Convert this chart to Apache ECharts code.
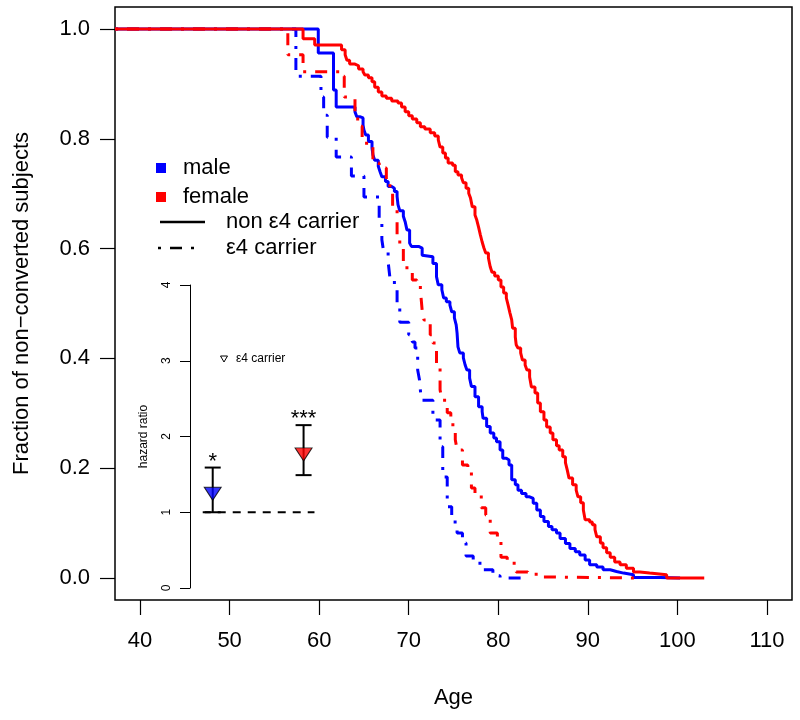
<!DOCTYPE html>
<html><head><meta charset="utf-8">
<script src="https://cdn.jsdelivr.net/npm/echarts@6/dist/echarts.min.js"></script>
<style>html,body{margin:0;padding:0;background:#fff}#c{width:800px;height:720px}</style>
</head><body><div id="c"></div>
<script>
// ---- data ----
const xTicks = [40, 50, 60, 70, 80, 90, 100, 110];
const yTicks = [0, 0.2, 0.4, 0.6, 0.8, 1.0];
const hrTicks = [0, 1, 2, 3, 4];

const maleNonAge = [37.2, 59.9, 61.6, 61.9, 64.0, 64.2, 64.6, 64.9, 65.0, 65.2, 65.5, 65.9, 66.0, 66.2, 66.6, 66.8, 67.0, 67.4, 67.7, 68.1, 68.4, 68.7, 68.8, 69.0, 69.4, 69.6, 69.8, 70.1, 70.3, 71.1, 71.5, 71.6, 72.7, 73.1, 73.3, 73.7, 73.9, 74.2, 74.6, 74.8, 75.1, 75.3, 75.4, 75.5, 75.7, 76.1, 76.3, 76.5, 76.8, 77.0, 77.4, 77.8, 78.2, 78.3, 78.7, 79.1, 79.5, 79.8, 80.2, 80.5, 80.9, 81.2, 81.5, 81.9, 82.2, 82.6, 83.1, 83.5, 83.9, 84.3, 84.7, 85.1, 85.6, 86.0, 86.5, 86.9, 87.5, 88.0, 88.6, 89.1, 89.7, 90.2, 91.0, 91.7, 92.5, 93.2, 94.0, 95.1, 98.1, 100.3];
const maleNonSurv = [1.0, 0.956, 0.889, 0.858, 0.849, 0.840, 0.838, 0.825, 0.816, 0.807, 0.795, 0.783, 0.771, 0.761, 0.750, 0.740, 0.731, 0.722, 0.713, 0.710, 0.704, 0.695, 0.680, 0.669, 0.659, 0.649, 0.634, 0.610, 0.604, 0.601, 0.588, 0.585, 0.573, 0.549, 0.534, 0.525, 0.510, 0.503, 0.497, 0.485, 0.474, 0.461, 0.446, 0.421, 0.410, 0.401, 0.388, 0.379, 0.364, 0.349, 0.330, 0.312, 0.303, 0.291, 0.276, 0.264, 0.255, 0.248, 0.233, 0.218, 0.215, 0.206, 0.179, 0.170, 0.160, 0.154, 0.148, 0.145, 0.136, 0.124, 0.112, 0.103, 0.094, 0.088, 0.082, 0.072, 0.063, 0.054, 0.048, 0.042, 0.033, 0.024, 0.020, 0.015, 0.012, 0.009, 0.006, 0.001, 0.0, 0.0];

const femaleNonAge = [37.2, 58.2, 59.5, 62.5, 62.9, 63.1, 63.4, 64.0, 64.4, 64.9, 65.1, 65.5, 65.9, 66.2, 66.6, 67.0, 67.5, 68.1, 68.8, 69.2, 69.6, 70.0, 70.4, 70.9, 71.3, 71.8, 72.4, 72.9, 73.3, 73.5, 73.8, 74.1, 74.4, 74.9, 75.2, 75.5, 75.9, 76.1, 76.4, 76.7, 76.9, 77.1, 77.4, 77.6, 77.8, 78.0, 78.2, 78.4, 78.6, 78.9, 79.1, 79.3, 79.6, 80.0, 80.3, 80.6, 80.9, 81.1, 81.3, 81.5, 81.6, 81.9, 82.0, 82.2, 82.5, 82.7, 83.0, 83.2, 83.5, 83.7, 84.1, 84.4, 84.7, 85.1, 85.4, 85.8, 86.1, 86.5, 86.8, 87.2, 87.5, 87.7, 87.9, 88.3, 88.7, 88.9, 89.2, 89.5, 89.7, 90.2, 90.5, 90.8, 91.0, 91.4, 91.7, 92.1, 92.5, 93.0, 93.6, 94.3, 95.1, 95.8, 96.9, 98.8, 103.0];
const femaleNonSurv = [1.0, 0.982, 0.971, 0.962, 0.953, 0.943, 0.936, 0.933, 0.927, 0.922, 0.916, 0.911, 0.904, 0.894, 0.885, 0.878, 0.874, 0.869, 0.865, 0.858, 0.849, 0.842, 0.836, 0.829, 0.822, 0.818, 0.811, 0.805, 0.798, 0.785, 0.774, 0.765, 0.756, 0.752, 0.740, 0.734, 0.729, 0.720, 0.710, 0.701, 0.692, 0.676, 0.661, 0.652, 0.639, 0.625, 0.612, 0.601, 0.592, 0.583, 0.567, 0.557, 0.550, 0.543, 0.530, 0.519, 0.510, 0.497, 0.483, 0.470, 0.455, 0.439, 0.425, 0.419, 0.410, 0.397, 0.388, 0.379, 0.366, 0.348, 0.337, 0.319, 0.303, 0.288, 0.275, 0.264, 0.252, 0.241, 0.233, 0.221, 0.210, 0.197, 0.182, 0.170, 0.160, 0.148, 0.137, 0.124, 0.106, 0.102, 0.097, 0.088, 0.075, 0.064, 0.055, 0.046, 0.038, 0.029, 0.024, 0.018, 0.011, 0.009, 0.006, 0.0, 0.0];

const maleCarAge = [37.2, 57.4, 60.2, 60.5, 60.9, 61.9, 63.6, 65.0, 66.7, 67.0, 67.2, 67.7, 67.9, 68.4, 68.7, 69.0, 70.0, 70.4, 70.7, 71.0, 71.2, 71.4, 72.7, 73.5, 73.8, 74.3, 74.8, 75.4, 76.0, 76.4, 77.2, 78.2, 79.4, 80.2, 83.0];
const maleCarSurv = [1.0, 0.914, 0.876, 0.843, 0.803, 0.767, 0.732, 0.694, 0.647, 0.616, 0.594, 0.576, 0.547, 0.528, 0.501, 0.466, 0.443, 0.430, 0.419, 0.379, 0.361, 0.324, 0.288, 0.239, 0.184, 0.130, 0.102, 0.082, 0.064, 0.040, 0.027, 0.015, 0.004, 0.0, 0.0];

const femaleCarAge = [37.2, 56.5, 58.2, 62.3, 62.8, 63.6, 64.0, 64.3, 64.8, 65.7, 66.0, 66.7, 67.5, 67.9, 68.2, 68.7, 69.0, 69.4, 69.8, 70.4, 70.9, 71.3, 71.5, 71.7, 72.4, 72.7, 73.1, 73.5, 73.7, 74.3, 74.7, 75.2, 75.4, 76.0, 76.6, 77.0, 77.4, 78.1, 78.6, 79.1, 79.9, 80.3, 81.0, 82.0, 83.3, 84.4, 85.6, 96.0];
const femaleCarSurv = [1.0, 0.953, 0.922, 0.914, 0.876, 0.873, 0.840, 0.823, 0.792, 0.785, 0.756, 0.747, 0.720, 0.707, 0.670, 0.621, 0.607, 0.576, 0.561, 0.543, 0.537, 0.525, 0.488, 0.470, 0.443, 0.428, 0.384, 0.343, 0.324, 0.301, 0.279, 0.252, 0.233, 0.206, 0.193, 0.164, 0.151, 0.128, 0.115, 0.082, 0.066, 0.038, 0.027, 0.011, 0.007, 0.002, 0.0, 0.0];

// inset: hazard ratios for e4 carriers
const hrGroups = ['male', 'female'];
const hrPos = [1, 2];
const hrEst = [1.27, 1.79];
const hrLow = [1.0, 1.49];
const hrHigh = [1.59, 2.15];
const hrStars = ['*', '***'];
const hrRefValue = 1;
const hrRefSpan = [0.89, 2.12];

// ---- chart ----
const FONT = "'Liberation Sans', Arial, Helvetica, sans-serif";
const BLUE = '#0000FF', RED = '#FF0000';
const hrColors = [BLUE, RED];
const DOTDASH = [3, 9, 12, 9];
const zip = (a, b) => a.slice(0, Math.min(a.length, b.length)).map((v, i) => [v, b[i]]);

function kmSeries(name, ages, surv, color, dashed, z) {
  return {
    name, type: 'line', step: 'end', xAxisIndex: 0, yAxisIndex: 0,
    data: zip(ages, surv), symbol: 'none', showSymbol: false, z,
    lineStyle: { color, width: 3, type: dashed ? DOTDASH : 'solid', cap: 'butt' },
    animation: false
  };
}

const chart = echarts.init(document.getElementById('c'), null, { renderer: 'canvas' });
const option = {
  backgroundColor: '#fff',
  animation: false,
  textStyle: { fontFamily: FONT },
  grid: [
    { left: 115, right: 8, top: 7, bottom: 120, show: true, borderColor: '#000', borderWidth: 1.5, backgroundColor: 'transparent' },
    { left: 190, top: 285, width: 159, height: 303, show: false }
  ],
  xAxis: [
    {
      type: 'value', gridIndex: 0, min: 37.2, max: 112.8,
      name: 'Age', nameLocation: 'middle', nameGap: 87,
      nameTextStyle: { fontSize: 22, color: '#000', fontFamily: FONT },
      axisLine: { show: false, onZero: false },
      axisTick: { show: true, length: 15, lineStyle: { color: '#000', width: 1.2 }, customValues: xTicks },
      axisLabel: { fontSize: 22, color: '#000', margin: 30, fontFamily: FONT, customValues: xTicks, formatter: v => String(v) },
      splitLine: { show: false }
    },
    {
      type: 'value', gridIndex: 1, min: 0.75, max: 2.5, show: false
    }
  ],
  yAxis: [
    {
      type: 'value', gridIndex: 0, min: -0.04, max: 1.04,
      name: 'Fraction of non\u2212converted subjects', nameLocation: 'middle', nameGap: 82,
      nameTextStyle: { fontSize: 22, color: '#000', fontFamily: FONT },
      axisLine: { show: false, onZero: false },
      axisTick: { show: true, length: 15, lineStyle: { color: '#000', width: 1.2 }, customValues: yTicks },
      axisLabel: { fontSize: 22, color: '#000', margin: 25, fontFamily: FONT, customValues: yTicks, formatter: v => v.toFixed(1) },
      splitLine: { show: false }
    },
    {
      type: 'value', gridIndex: 1, min: 0, max: 4, interval: 1,
      name: 'hazard ratio', nameLocation: 'middle', nameGap: 40,
      nameTextStyle: { fontSize: 12, color: '#000', fontFamily: FONT },
      axisLine: { show: true, onZero: false, lineStyle: { color: '#000', width: 1 } },
      axisTick: { show: true, length: 10, lineStyle: { color: '#000', width: 1 } },
      axisLabel: { fontSize: 12, color: '#000', margin: 17, rotate: 90, fontFamily: FONT, formatter: v => String(v) },
      splitLine: { show: false }
    }
  ],
  series: [
    kmSeries('male non e4', maleNonAge, maleNonSurv, BLUE, false, 2),
    kmSeries('male e4', maleCarAge, maleCarSurv, BLUE, true, 3),
    kmSeries('female e4', femaleCarAge, femaleCarSurv, RED, true, 4),
    kmSeries('female non e4', femaleNonAge, femaleNonSurv, RED, false, 5),
    {
      type: 'line', xAxisIndex: 1, yAxisIndex: 1, symbol: 'none', z: 6,
      data: hrRefSpan.map(x => [x, hrRefValue]),
      lineStyle: { color: '#000', width: 1.8, type: [8, 7] }
    },
    {
      type: 'custom', xAxisIndex: 1, yAxisIndex: 1, z: 7,
      data: hrPos.map((p, i) => [p, hrLow[i], hrHigh[i]]),
      encode: { x: 0, y: [1, 2] },
      renderItem: function (params, api) {
        const x = api.value(0);
        const lo = api.coord([x, api.value(1)]);
        const hi = api.coord([x, api.value(2)]);
        const cw = 8;
        const st = { stroke: '#000', lineWidth: 2 };
        return {
          type: 'group',
          children: [
            { type: 'line', shape: { x1: lo[0], y1: lo[1], x2: hi[0], y2: hi[1] }, style: st },
            { type: 'line', shape: { x1: hi[0] - cw, y1: hi[1], x2: hi[0] + cw, y2: hi[1] }, style: st },
            { type: 'line', shape: { x1: lo[0] - cw, y1: lo[1], x2: lo[0] + cw, y2: lo[1] }, style: st },
            { type: 'text', x: hi[0], y: hi[1] - 6, style: { text: hrStars[params.dataIndex], fontSize: 22, fontFamily: FONT, fill: '#000', align: 'center', verticalAlign: 'middle' } }
          ]
        };
      }
    },
    {
      type: 'scatter', xAxisIndex: 1, yAxisIndex: 1, z: 8,
      symbol: 'triangle', symbolRotate: 180, symbolSize: [17, 13], symbolOffset: [0, 2],
      data: hrPos.map((p, i) => ({ name: hrGroups[i], value: [p, hrEst[i]], itemStyle: { color: hrColors[i], borderColor: '#000', borderWidth: 1 } }))
    }
  ],
  graphic: [
    { type: 'rect', shape: { x: 156, y: 163, width: 10, height: 10 }, style: { fill: BLUE }, z: 20 },
    { type: 'text', x: 183, y: 168, style: { text: 'male', fontSize: 22, fontFamily: FONT, fill: '#000', verticalAlign: 'middle' }, z: 20 },
    { type: 'rect', shape: { x: 156, y: 192, width: 10, height: 10 }, style: { fill: RED }, z: 20 },
    { type: 'text', x: 183, y: 197, style: { text: 'female', fontSize: 22, fontFamily: FONT, fill: '#000', verticalAlign: 'middle' }, z: 20 },
    { type: 'line', shape: { x1: 160, y1: 222, x2: 205, y2: 222 }, style: { stroke: '#000', lineWidth: 2.5 }, z: 20 },
    { type: 'text', x: 226, y: 222, style: { text: 'non \u03b54 carrier', fontSize: 22, fontFamily: FONT, fill: '#000', verticalAlign: 'middle' }, z: 20 },
    { type: 'line', shape: { x1: 158, y1: 248, x2: 197, y2: 248 }, style: { stroke: '#000', lineWidth: 2.5, lineDash: DOTDASH }, z: 20 },
    { type: 'text', x: 226, y: 248, style: { text: '\u03b54 carrier', fontSize: 22, fontFamily: FONT, fill: '#000', verticalAlign: 'middle' }, z: 20 },
    { type: 'polygon', shape: { points: [[220.5, 356], [227.5, 356], [224, 362]] }, style: { fill: 'none', stroke: '#000', lineWidth: 1 }, z: 20 },
    { type: 'text', x: 236, y: 359, style: { text: '\u03b54 carrier', fontSize: 12, fontFamily: FONT, fill: '#000', verticalAlign: 'middle' }, z: 20 }
  ]
};
chart.setOption(option);
</script>
</body></html>
